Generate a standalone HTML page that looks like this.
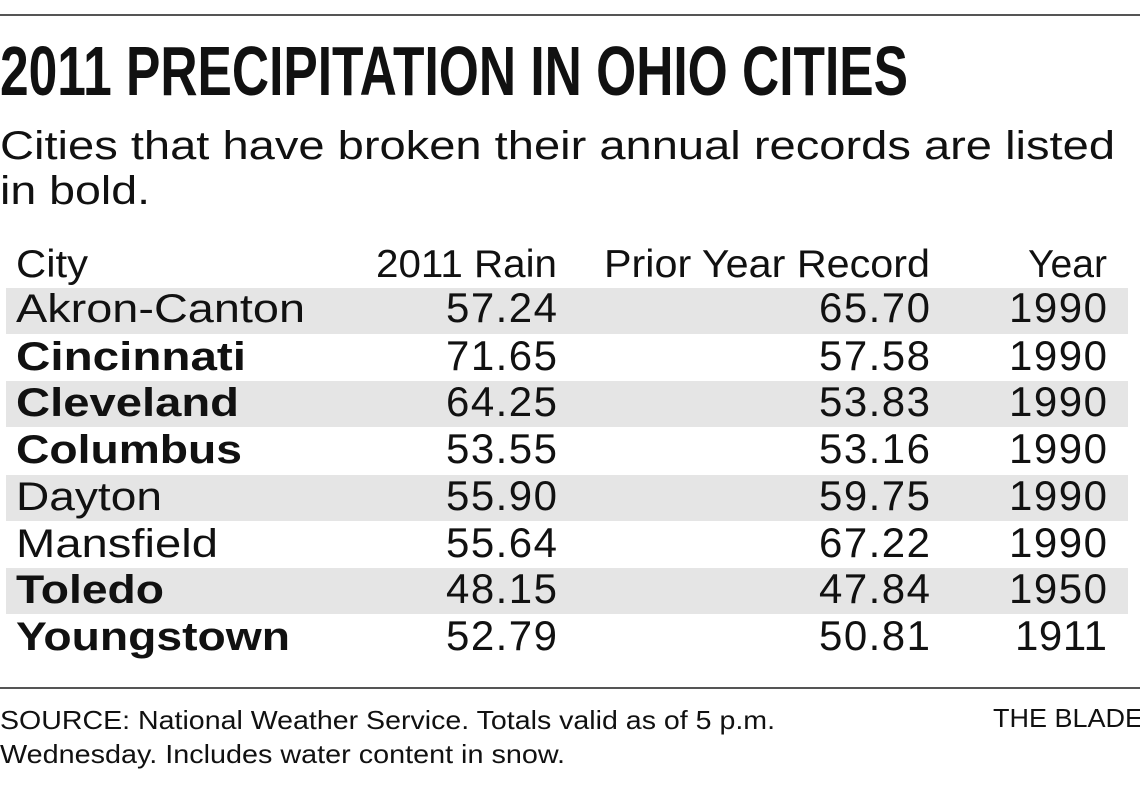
<!DOCTYPE html>
<html><head><meta charset="utf-8"><style>html,body{margin:0;padding:0;background:#fff}svg{display:block}</style></head>
<body>
<svg width="1140" height="798" viewBox="0 0 1140 798" xmlns="http://www.w3.org/2000/svg" font-family="Liberation Sans, sans-serif" fill="#111">
<rect width="1140" height="798" fill="#fff"/>
<rect x="0" y="14" width="1140" height="2" fill="#555"/>
<text x="0" y="95" font-size="70" font-weight="bold" textLength="908" lengthAdjust="spacingAndGlyphs">2011 PRECIPITATION IN OHIO CITIES</text>
<text x="0" y="159" font-size="40" textLength="1115" lengthAdjust="spacingAndGlyphs">Cities that have broken their annual records are listed</text>
<text x="0" y="204" font-size="40" textLength="150" lengthAdjust="spacingAndGlyphs">in bold.</text>
<g fill="#e5e5e5">
<rect x="6" y="288" width="1122" height="46"/>
<rect x="6" y="381" width="1122" height="46"/>
<rect x="6" y="475" width="1122" height="46"/>
<rect x="6" y="568" width="1122" height="46"/>
</g>
<g font-size="39">
<text x="16" y="277" textLength="72" lengthAdjust="spacingAndGlyphs">City</text>
<text x="376" y="277" textLength="181" lengthAdjust="spacingAndGlyphs">2011 Rain</text>
<text x="604" y="277" textLength="326" lengthAdjust="spacingAndGlyphs">Prior Year Record</text>
<text x="1028" y="277" textLength="79" lengthAdjust="spacingAndGlyphs">Year</text>
</g>
<g font-size="40">
<text x="16" y="322" textLength="289" lengthAdjust="spacingAndGlyphs">Akron-Canton</text>
<text x="16" y="370" font-weight="bold" textLength="230" lengthAdjust="spacingAndGlyphs">Cincinnati</text>
<text x="16" y="416" font-weight="bold" textLength="223" lengthAdjust="spacingAndGlyphs">Cleveland</text>
<text x="16" y="463" font-weight="bold" textLength="226" lengthAdjust="spacingAndGlyphs">Columbus</text>
<text x="16" y="510" textLength="146" lengthAdjust="spacingAndGlyphs">Dayton</text>
<text x="16" y="557" textLength="202" lengthAdjust="spacingAndGlyphs">Mansfield</text>
<text x="16" y="603" font-weight="bold" textLength="148" lengthAdjust="spacingAndGlyphs">Toledo</text>
<text x="16" y="650" font-weight="bold" textLength="274" lengthAdjust="spacingAndGlyphs">Youngstown</text>
</g>
<g font-size="42" lengthAdjust="spacingAndGlyphs">
<text x="446" y="322" textLength="111">57.24</text><text x="819" y="322" textLength="111">65.70</text><text x="1009" y="322" textLength="98">1990</text>
<text x="446" y="370" textLength="111">71.65</text><text x="819" y="370" textLength="111">57.58</text><text x="1009" y="370" textLength="98">1990</text>
<text x="446" y="416" textLength="111">64.25</text><text x="819" y="416" textLength="111">53.83</text><text x="1009" y="416" textLength="98">1990</text>
<text x="446" y="463" textLength="111">53.55</text><text x="819" y="463" textLength="111">53.16</text><text x="1009" y="463" textLength="98">1990</text>
<text x="446" y="510" textLength="111">55.90</text><text x="819" y="510" textLength="111">59.75</text><text x="1009" y="510" textLength="98">1990</text>
<text x="446" y="557" textLength="111">55.64</text><text x="819" y="557" textLength="111">67.22</text><text x="1009" y="557" textLength="98">1990</text>
<text x="446" y="603" textLength="111">48.15</text><text x="819" y="603" textLength="111">47.84</text><text x="1009" y="603" textLength="98">1950</text>
<text x="446" y="650" textLength="111">52.79</text><text x="819" y="650" textLength="111">50.81</text><text x="1015" y="650" textLength="92">1911</text>
</g>
<rect x="0" y="687" width="1140" height="2" fill="#555"/>
<g font-size="26">
<text x="0" y="729" textLength="775" lengthAdjust="spacingAndGlyphs">SOURCE: National Weather Service. Totals valid as of 5 p.m.</text>
<text x="0" y="763" textLength="565" lengthAdjust="spacingAndGlyphs">Wednesday. Includes water content in snow.</text>
<text x="993" y="727" textLength="150" lengthAdjust="spacingAndGlyphs">THE BLADE</text>
</g>
</svg>
</body></html>
